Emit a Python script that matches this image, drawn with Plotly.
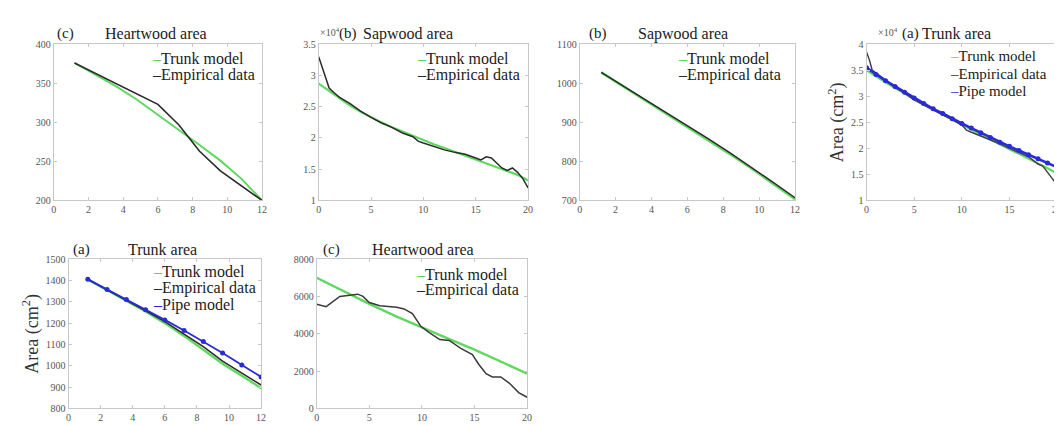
import plotly.graph_objects as go

W, H = 1062, 425

# ---------------- data ----------------
# Panel 1: (c) Heartwood area, small tree
p1_x = [1.2, 2.4, 3.6, 4.8, 6.0, 7.2, 8.4, 9.6, 10.8, 12.0]
p1_emp = [376, 363, 350, 337, 323, 297, 263, 238, 219, 200]
p1_trunk = [376, 361, 346, 329, 310, 291, 271, 251, 228, 200]

# Panel 2: (b) Sapwood area, large tree (x10^4)
p2_emp_x = [0, 0.5, 1, 1.5, 2, 3, 4, 5, 6, 7, 8, 9, 9.5, 10, 11, 12, 13, 14, 15, 15.5,
            16, 16.5, 17, 17.5, 18, 18.5, 19, 19.5, 20]
p2_emp = [3.3, 3.05, 2.8, 2.72, 2.65, 2.55, 2.43, 2.33, 2.24, 2.17, 2.08, 2.02, 1.95, 1.92,
          1.86, 1.81, 1.77, 1.74, 1.68, 1.65, 1.7, 1.68, 1.6, 1.52, 1.48, 1.52, 1.45, 1.35, 1.2]
p2_trunk_x = list(range(0, 21))
p2_trunk = [2.87, 2.75, 2.63, 2.52, 2.42, 2.33, 2.25, 2.17, 2.1, 2.03, 1.96, 1.9, 1.84,
            1.78, 1.72, 1.66, 1.6, 1.54, 1.48, 1.41, 1.32]

# Panel 3: (b) Sapwood area, small tree
p3_x = [1.2, 2.4, 3.6, 4.8, 6.0, 7.2, 8.4, 9.6, 10.8, 12.0]
p3_emp = [1028, 994, 959, 925, 891, 857, 821, 784, 746, 707]
p3_trunk = [1028, 993, 958, 924, 889, 854, 818, 781, 743, 703]

# Panel 4: (a) Trunk area, large tree (x10^4)
p4_emp_x = [0, 0.3, 0.6, 1, 2, 3, 4, 5, 6, 7, 8, 9, 10, 10.5, 11, 12, 13, 14, 15, 16, 17,
            17.5, 18, 18.5, 19, 19.5, 20]
p4_emp = [3.85, 3.7, 3.5, 3.45, 3.3, 3.17, 3.06, 2.93, 2.83, 2.74, 2.64, 2.55, 2.45, 2.35,
          2.31, 2.24, 2.17, 2.09, 2.0, 1.92, 1.84, 1.77, 1.7, 1.66, 1.55, 1.42, 1.3]
p4_model_x = list(range(0, 21))
p4_trunk = [3.5, 3.38, 3.27, 3.16, 3.05, 2.95, 2.85, 2.75, 2.65, 2.55, 2.45, 2.35, 2.26,
            2.17, 2.08, 1.99, 1.9, 1.81, 1.72, 1.62, 1.52]
p4_pipe = [3.55, 3.42, 3.3, 3.19, 3.08, 2.97, 2.86, 2.76, 2.67, 2.57, 2.48, 2.39, 2.3,
           2.21, 2.12, 2.04, 1.96, 1.88, 1.8, 1.72, 1.64]

# Panel 5: (a) Trunk area, small tree
p5_x = [1.2, 2.4, 3.6, 4.8, 6.0, 7.2, 8.4, 9.6, 10.8, 12.0]
p5_emp = [1405, 1357, 1308, 1258, 1207, 1150, 1090, 1022, 965, 910]
p5_trunk = [1405, 1356, 1306, 1255, 1200, 1140, 1075, 1010, 953, 895]
p5_pipe = [1405, 1358, 1310, 1263, 1215, 1165, 1114, 1060, 1004, 948]

# Panel 6: (c) Heartwood area, large tree
p6_emp_x = [0, 0.9, 2.2, 3.9, 4.4, 5, 6, 6.8, 7.6, 8.3, 9.1, 9.9, 10.7, 11.7, 12.6, 13.7,
            14.8, 15.4, 16.1, 16.7, 17.5, 18.3, 19.2, 20]
p6_emp = [5580, 5450, 6000, 6120, 6000, 5670, 5500, 5470, 5420, 5330, 5080, 4400, 4060,
          3690, 3640, 3220, 2880, 2370, 1860, 1690, 1690, 1360, 850, 600]
p6_trunk_x = [0, 2.5, 5, 7.5, 10, 12.5, 15, 17.5, 20]
p6_trunk = [7000, 6300, 5600, 4950, 4330, 3740, 3150, 2500, 1870]

# tick values
ticks_x12 = [0, 2, 4, 6, 8, 10, 12]
ticks_x20 = [0, 5, 10, 15, 20]
ticks_y1 = [200, 250, 300, 350, 400]
ticks_y2 = [1, 1.5, 2, 2.5, 3, 3.5]
ticks_y3 = [700, 800, 900, 1000, 1100]
ticks_y4 = [1, 1.5, 2, 2.5, 3, 3.5, 4]
ticks_y5 = [800, 900, 1000, 1100, 1200, 1300, 1400, 1500]
ticks_y6 = [0, 2000, 4000, 6000, 8000]

# ---------------- style ----------------
GREEN = "#5fd85f"
DARK = "#2b2b2b"
BLUE = "#2a2ad6"
FONT = "Liberation Serif"

# panel pixel boxes: (left, right, top, bottom)
boxes = [
    (43, 253, 32, 192),
    (310, 521, 32, 192),
    (573, 790, 32, 192),
    (862, 1054, 32, 192),
    (58, 252, 252, 405),
    (308, 520, 252, 405),
]

fig = go.Figure()

def add(idx, x, y, color, width, mode="lines", msize=0):
    sfx = "" if idx == 1 else str(idx)
    fig.add_trace(go.Scatter(
        x=x, y=y, mode=mode, xaxis="x" + sfx, yaxis="y" + sfx,
        line=dict(color=color, width=width),
        marker=dict(size=msize, color=color),
        showlegend=False, hoverinfo="skip"))

add(1, p1_x, p1_trunk, GREEN, 2)
add(1, p1_x, p1_emp, DARK, 1.6)
add(2, p2_trunk_x, p2_trunk, GREEN, 2.2)
add(2, p2_emp_x, p2_emp, DARK, 1.5)
add(3, p3_x, p3_trunk, GREEN, 2.4)
add(3, p3_x, p3_emp, DARK, 1.5)
add(4, p4_model_x, p4_trunk, GREEN, 2.2)
add(4, p4_emp_x, p4_emp, "#444444", 1.5)
add(4, p4_model_x, p4_pipe, BLUE, 2.6, "lines+markers", 5)
add(5, p5_x, p5_trunk, GREEN, 2.4)
add(5, p5_x, p5_emp, DARK, 1.5)
add(5, p5_x, p5_pipe, BLUE, 1.8, "lines+markers", 5)
add(6, p6_trunk_x, p6_trunk, GREEN, 2.4)
add(6, p6_emp_x, p6_emp, "#3a3a3a", 1.5)

axis_common = dict(
    showline=True, linecolor="#c8c8c8", linewidth=1, mirror="ticks",
    ticks="inside", ticklen=3, tickcolor="#c8c8c8",
    showgrid=False, zeroline=False,
    tickfont=dict(family=FONT, size=10, color="#555555"),
)

xranges = [(0, 12), (0, 20), (0, 12), (0, 20), (0, 12), (0, 20)]
xticks = [ticks_x12, ticks_x20, ticks_x12, ticks_x20, ticks_x12, ticks_x20]
yranges = [(200, 400), (1, 3.5), (700, 1100), (1, 4), (800, 1500), (0, 8000)]
yticks = [ticks_y1, ticks_y2, ticks_y3, ticks_y4, ticks_y5, ticks_y6]

layout = dict(
    width=W, height=H, margin=dict(l=0, r=0, t=0, b=0),
    paper_bgcolor="white", plot_bgcolor="white",
    font=dict(family=FONT, color="#222222"),
    showlegend=False,
)
for i, (l, r, t, b) in enumerate(boxes):
    n = i + 1
    sfx = "" if n == 1 else str(n)
    xa = dict(axis_common, domain=[l / W, r / W], range=list(xranges[i]),
              tickvals=xticks[i], anchor="y" + sfx)
    ya = dict(axis_common, domain=[1 - b / H, 1 - t / H], range=list(yranges[i]),
              tickvals=yticks[i], anchor="x" + sfx)
    if n in (4, 5):
        ya["title"] = dict(text="Area (cm<sup>2</sup>)", standoff=2,
                           font=dict(family=FONT, size=18, color="#333333"))
    layout["xaxis" + sfx] = xa
    layout["yaxis" + sfx] = ya

fig.update_layout(**layout)

def px_x(p):
    return p / W

def px_y(p):
    return 1 - p / H

def text(x, y, s, size=16, anchor="left", color="#222222"):
    fig.add_annotation(x=px_x(x), y=px_y(y), xref="paper", yref="paper",
                       text=s, showarrow=False, xanchor=anchor, yanchor="middle",
                       font=dict(family=FONT, size=size, color=color))

# titles
text(44, 21, "(c)", 15)
text(146, 21, "Heartwood area", 16, "center")
text(309, 19, "×10<sup>4</sup>", 10, color="#555555")
text(328, 21, "(b)", 15)
text(400, 21, "Sapwood area", 16, "center")
text(580, 21, "(b)", 15)
text(677, 21, "Sapwood area", 16, "center")
text(872, 19, "×10<sup>4</sup>", 10, color="#555555")
text(896, 21, "(a)", 15)
text(953, 21, "Trunk area", 16, "center")
text(60, 242, "(a)", 15)
text(153, 242, "Trunk area", 16, "center")
text(312, 242, "(c)", 15)
text(415, 242, "Heartwood area", 16, "center")

# legends
def legend(x, ys, entries, size=16):
    for y, (name, col) in zip(ys, entries):
        text(x, y, f"<span style='color:{col}'>–</span>{name}", size)

two = [("Trunk model", GREEN), ("Empirical data", DARK)]
three = [("Trunk model", GREEN), ("Empirical data", DARK), ("Pipe model", BLUE)]
legend(140, [47, 63], two)
legend(407, [47, 63], two)
legend(670, [47, 63], two)
legend(944, [44, 62, 80], three, 15)
legend(141, [265, 282, 299], three)
legend(406, [268, 284], two)

fig.write_html("out.html")
